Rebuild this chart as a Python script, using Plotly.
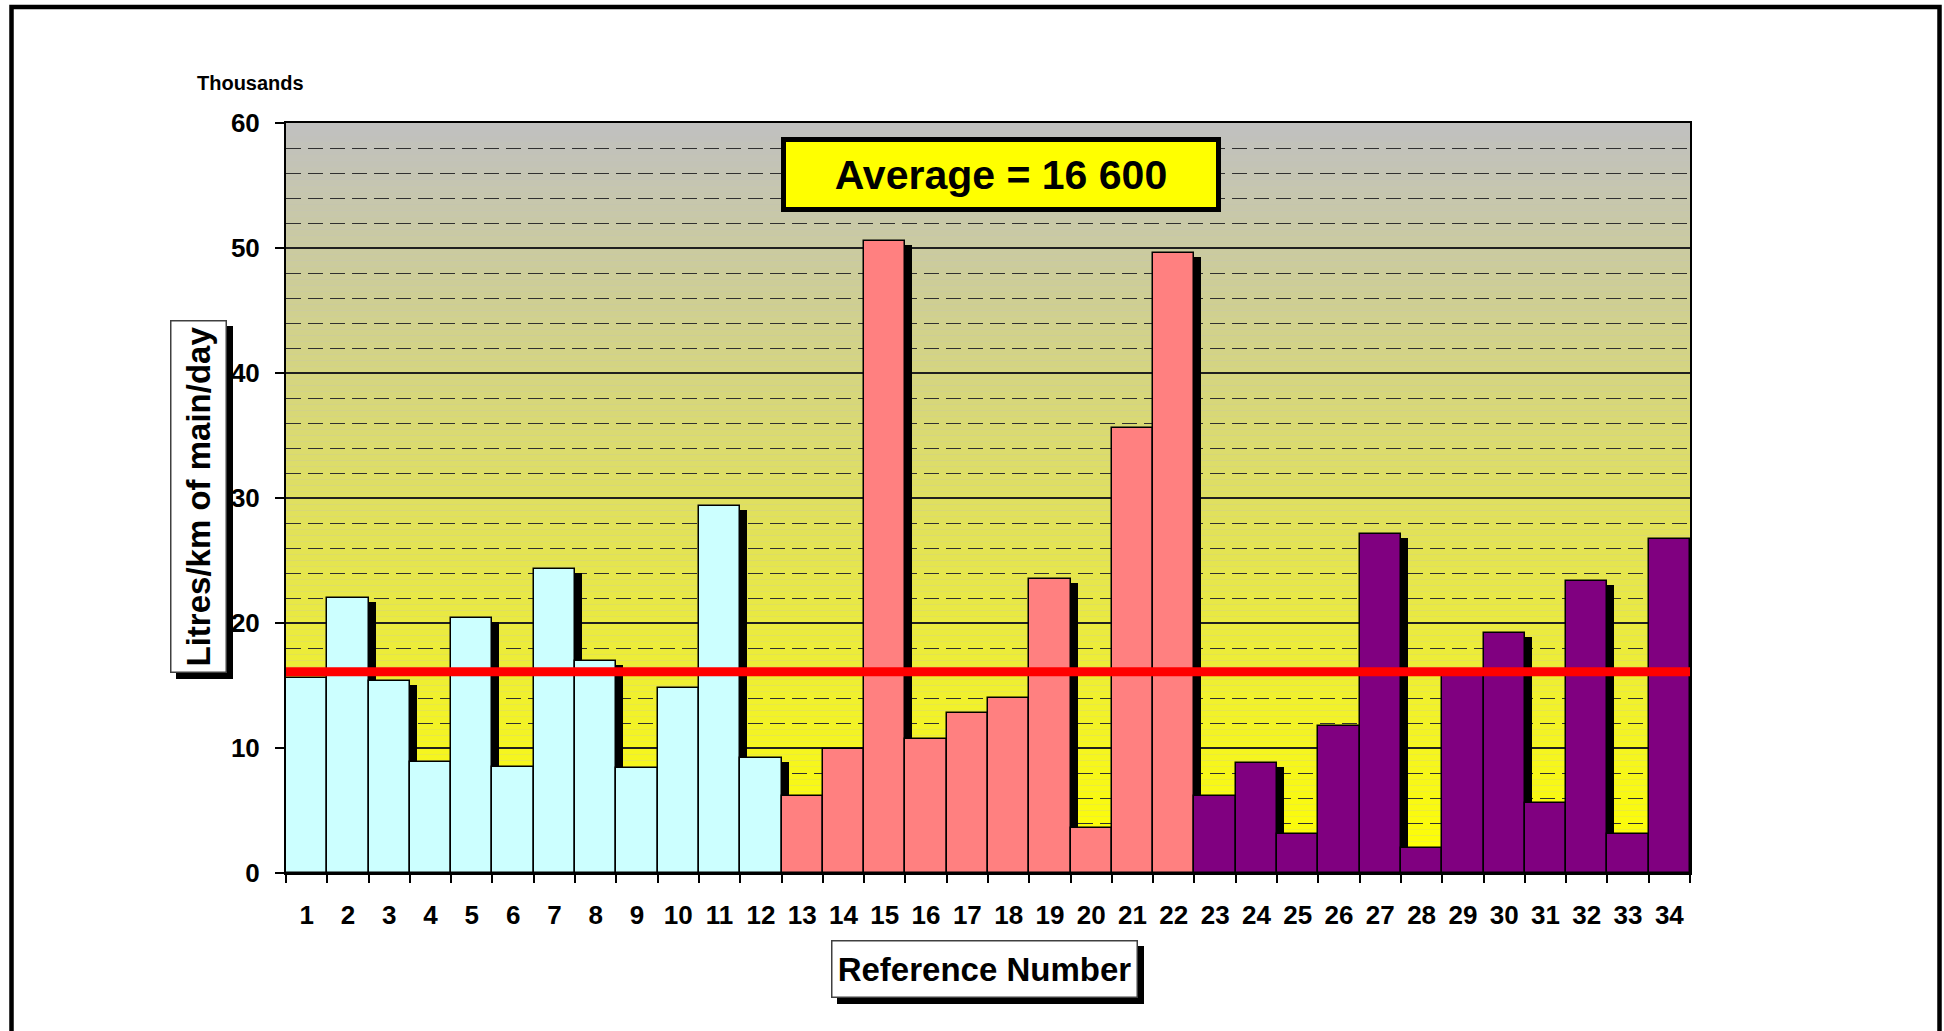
"""Leakage per km of main - bar chart with average line."""

import plotly.graph_objects as go

# data (thousands of litres/km of main/day)
ref_numbers = [str(i) for i in range(1, 35)]
values = [
    15.6, 22.0, 15.4, 8.9, 20.4, 8.5, 24.3, 17.0, 8.4, 14.8, 29.4, 9.2,
    6.2, 9.9, 50.6, 10.7, 12.8, 14.0, 23.5, 3.6, 35.6, 49.6,
    6.2, 8.8, 3.1, 11.8, 27.1, 2.0, 16.0, 19.2, 5.6, 23.4, 3.1, 26.7,
]
group_sizes = [12, 10, 12]
group_colors = ["#CCFFFF", "#FF8080", "#800080"]
avg_line = 16.1
avg_label = "Average = 16 600"
y_ticks = [0, 10, 20, 30, 40, 50, 60]

FONT = "Arial, Liberation Sans, sans-serif"
W, H = 1944, 1031
L, T = 286, 123
R = W - 1690
B = H - 873
PW, PH = W - L - R, H - T - B


def px_x(x):
    # page pixel -> paper
    return (x - L) / PW


def px_y(y):
    return (H - B - y) / PH


bar_colors = []
for n, c in zip(group_sizes, group_colors):
    bar_colors += [c] * n

fig = go.Figure()

# drop shadows behind the bars
fig.add_trace(go.Bar(
    x=ref_numbers, y=[v - 0.32 for v in values],
    offset=-0.33, width=1,
    marker=dict(color="black", line=dict(width=0)),
    cliponaxis=False, hoverinfo="skip",
))
fig.add_trace(go.Bar(
    x=ref_numbers, y=values,
    offset=-0.5, width=1,
    marker=dict(color=bar_colors, line=dict(color="black", width=1.5)),
))

# gray -> yellow background gradient, in thin bands under the gridlines
shapes = []
n_bands = 120
for i in range(n_bands):
    y0 = 60 * i / n_bands
    y1 = 60 * (i + 1) / n_bands
    t = (y0 + y1) / 2 / 60
    r = round(255 + (192 - 255) * t)
    b = round(192 * t)
    shapes.append(dict(type="rect", xref="paper", yref="y", x0=0, x1=1, y0=y0, y1=y1,
                       fillcolor=f"rgb({r},{r},{b})", line=dict(width=0), layer="below"))

# average line
shapes.append(dict(type="line", xref="paper", yref="y", x0=0, x1=1, y0=avg_line, y1=avg_line,
                   line=dict(color="#FF0000", width=9), layer="above"))

# box shadows for axis titles
for x0, y0, x1, y1 in [(170, 320, 227, 673), (831, 940, 1138, 998)]:
    shapes.append(dict(type="rect", xref="paper", yref="paper",
                       x0=px_x(x0 + 6), x1=px_x(x1 + 6), y0=px_y(y0 + 6), y1=px_y(y1 + 6),
                       fillcolor="black", line=dict(width=0), layer="above"))

# outer frame
shapes.append(dict(type="rect", xref="paper", yref="paper",
                   x0=px_x(11.5), x1=px_x(1939.5), y0=px_y(7), y1=px_y(1045),
                   line=dict(color="black", width=4.5), layer="above"))

annotations = [
    dict(text="Thousands", xref="paper", yref="paper", x=px_x(195), y=px_y(83),
         xanchor="left", yanchor="middle", showarrow=False,
         font=dict(family=FONT, size=20, color="black", weight="bold")),
    dict(text=avg_label, xref="paper", yref="paper", x=px_x(1001), y=px_y(174.5),
         xanchor="center", yanchor="middle", showarrow=False,
         width=426, height=61, bgcolor="#FFFF00", bordercolor="black",
         borderwidth=5, borderpad=2,
         font=dict(family=FONT, size=41, color="black", weight="bold")),
    dict(text="Litres/km of main/day", xref="paper", yref="paper",
         x=px_x(198.5), y=px_y(496.5), xanchor="center", yanchor="middle",
         showarrow=False, textangle=-90, width=350, height=54,
         bgcolor="white", bordercolor="#404040", borderwidth=1.5, borderpad=0,
         font=dict(family=FONT, size=33, color="black", weight="bold")),
    dict(text="Reference Number", xref="paper", yref="paper",
         x=px_x(984.5), y=px_y(969), xanchor="center", yanchor="middle",
         showarrow=False, width=304, height=55,
         bgcolor="white", bordercolor="#404040", borderwidth=1.5, borderpad=0,
         font=dict(family=FONT, size=33, color="black", weight="bold")),
]

fig.update_layout(
    width=W, height=H,
    margin=dict(l=L, r=R, t=T, b=B, pad=0),
    paper_bgcolor="white", plot_bgcolor="#C0C0C0",
    barmode="overlay", bargap=0,
    showlegend=False,
    shapes=shapes, annotations=annotations,
    font=dict(family=FONT, color="black"),
)
fig.update_xaxes(
    type="category", range=[-0.5, len(values) - 0.5],
    tickson="boundaries", ticks="outside", ticklen=8, tickcolor="black", tickwidth=1.5,
    showgrid=False, showline=True, linecolor="black", linewidth=2, mirror=True,
    tickfont=dict(family=FONT, size=26, color="black", weight="bold"),
    ticklabelstandoff=18,
)
fig.update_yaxes(
    range=[0, 60], tickvals=y_ticks,
    ticks="outside", ticklen=9, tickcolor="black", tickwidth=1.5,
    showgrid=True, gridcolor="#202020", gridwidth=1.5, zeroline=False,
    showline=True, linecolor="black", linewidth=2, mirror=True,
    minor=dict(dtick=2, showgrid=True, gridcolor="#303030", gridwidth=1, griddash="15px,7px"),
    tickfont=dict(family=FONT, size=26, color="black", weight="bold"),
    ticklabelstandoff=10,
)

# drop the default page margin so the figure sits at the window origin
fig.write_html(
    "out.html",
    config={"displayModeBar": False},
    post_script="document.body.style.margin='0';document.body.style.overflow='hidden';",
)
